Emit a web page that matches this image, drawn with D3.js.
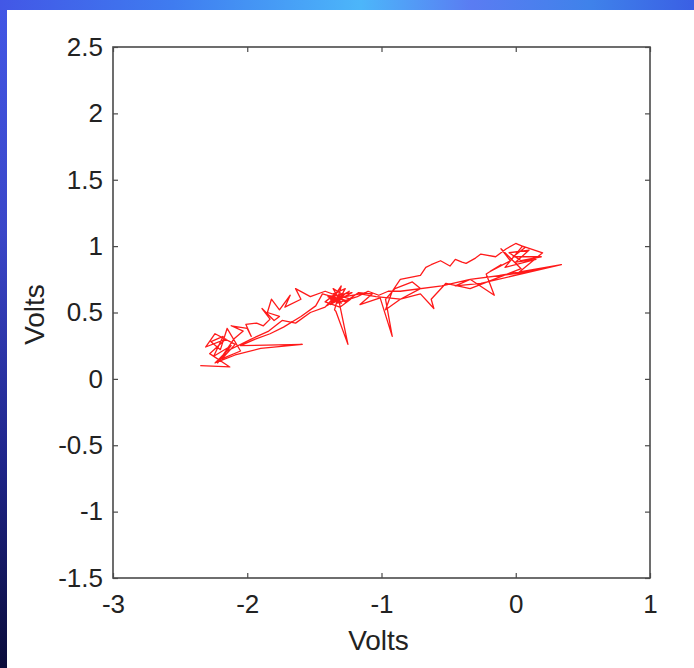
<!DOCTYPE html>
<html>
<head>
<meta charset="utf-8">
<script src="https://cdn.jsdelivr.net/npm/d3@7"></script>
<style>
  html, body { margin: 0; padding: 0; }
  body { width: 694px; height: 668px; overflow: hidden; background: #fff; }
  svg { display: block; }
  .tick text { font-family: "Liberation Sans", Arial, sans-serif; font-size: 26px; }
</style>
</head>
<body>
<script>
// Phase-plane trace: horizontal channel vs vertical channel, in volts
const xVolts = [
  -2.35, -2.13, -2.28, -2.16, -2.31, -2.24, -2.09, -2.19, -2.05, -2.15,
  -2.20, -2.27, -2.18, -2.25, -2.12, -2.22, -2.10, -2.03, -2.12, -2.00,
  -1.97, -2.01, -1.93, -1.88, -1.83, -1.89, -1.80, -1.76, -1.85, -1.82,
  -1.76, -1.68, -1.72, -1.60, -1.64, -1.53, -1.42, -1.31, -1.38, -1.22,
  -1.40, -1.30, -1.36, -1.28, -1.41, -1.33, -1.24, -1.38, -1.30, -1.35,
  -1.34, -1.25, -1.32, -1.26, -1.44, -1.49, -1.60, -1.73, -1.83, -1.94,
  -2.05, -1.59, -1.90, -2.09, -2.24, -2.15, -1.97, -1.84, -1.74, -1.64,
  -1.53, -1.42, -1.34, -1.27, -1.17, -1.07, -1.16, -1.01, -0.92, -0.97,
  -0.90, -0.77, -0.71, -0.86, -0.97, -0.92, -0.86, -0.71, -0.67, -0.63,
  -0.56, -0.49, -0.45, -0.40, -0.37, -0.30, -0.26, -0.15, -0.07, 0.00,
  0.07, -0.02, 0.19, 0.04, -0.05, 0.10, 0.00, 0.15, -0.08, 0.05,
  0.20, 0.02, -0.12, 0.34, -0.26, -0.45, -0.34, -0.16, -0.22, -0.11,
  -0.19, -0.04, -0.11, 0.04, -0.34, -0.52, -0.63, -0.61, -0.71, -0.86,
  -1.04, -1.16, -1.27, -1.38, -1.32, -1.42, -1.31, -1.23, -1.36, -1.27,
  -1.33, -1.18, -1.10, -1.02, -0.95, -0.86, -0.55, -0.34, 0.05, 0.28
];
const yVolts = [
  0.10, 0.09, 0.19, 0.30, 0.24, 0.34, 0.26, 0.15, 0.21, 0.38,
  0.22, 0.28, 0.32, 0.17, 0.25, 0.12, 0.30, 0.36, 0.40, 0.38,
  0.32, 0.41, 0.42, 0.40, 0.45, 0.53, 0.44, 0.47, 0.50, 0.60,
  0.52, 0.63, 0.54, 0.60, 0.68, 0.62, 0.66, 0.62, 0.56, 0.65,
  0.62, 0.57, 0.68, 0.63, 0.55, 0.60, 0.66, 0.58, 0.70, 0.52,
  0.51, 0.26, 0.60, 0.59, 0.64, 0.55, 0.47, 0.39, 0.34, 0.30,
  0.25, 0.26, 0.23, 0.18, 0.12, 0.21, 0.30, 0.36, 0.44, 0.42,
  0.50, 0.54, 0.63, 0.58, 0.65, 0.64, 0.56, 0.61, 0.32, 0.60,
  0.68, 0.73, 0.68, 0.60, 0.52, 0.66, 0.75, 0.78, 0.84, 0.86,
  0.89, 0.85, 0.90, 0.88, 0.87, 0.91, 0.94, 0.92, 0.98, 1.02,
  0.99, 0.92, 0.92, 0.89, 0.95, 0.97, 0.88, 0.90, 0.84, 1.00,
  0.95, 0.80, 0.78, 0.86, 0.72, 0.70, 0.75, 0.63, 0.79, 0.86,
  0.81, 0.89, 0.98, 0.83, 0.68, 0.72, 0.60, 0.53, 0.64, 0.60,
  0.62, 0.64, 0.62, 0.60, 0.66, 0.58, 0.54, 0.60, 0.64, 0.68,
  0.57, 0.62, 0.66, 0.63, 0.66, 0.66, 0.70, 0.75, 0.80, 0.85
];
const xTicks = [-3, -2, -1, 0, 1];
const yTicks = [-1.5, -1, -0.5, 0, 0.5, 1, 1.5, 2, 2.5];
const xLabel = "Volts";
const yLabel = "Volts";

const W = 694, H = 668;
const svg = d3.select("body").append("svg").attr("width", W).attr("height", H);

// Slide background: gradient header bar and left strip
const defs = svg.append("defs");
const gTop = defs.append("linearGradient").attr("id", "topbar").attr("x1", 0).attr("x2", 1).attr("y1", 0).attr("y2", 0);
[[0, "#4257e6"], [0.25, "#3f7cf0"], [0.52, "#4cb6fa"], [0.68, "#5a7cf2"], [0.85, "#3f82ea"], [1, "#3a5fe4"]]
  .forEach(([o, c]) => gTop.append("stop").attr("offset", o).attr("stop-color", c));
const gLeft = defs.append("linearGradient").attr("id", "leftbar").attr("x1", 0).attr("x2", 0).attr("y1", 0).attr("y2", 1);
[[0, "#4257e6"], [0.35, "#3a46c8"], [0.7, "#1e2488"], [1, "#0a0c3a"]]
  .forEach(([o, c]) => gLeft.append("stop").attr("offset", o).attr("stop-color", c));
svg.append("rect").attr("x", 0).attr("y", 0).attr("width", 7).attr("height", H).attr("fill", "url(#leftbar)");
svg.append("rect").attr("x", 0).attr("y", 0).attr("width", W).attr("height", 10).attr("fill", "url(#topbar)");

// Plot frame
const frame = { left: 113, right: 650, top: 47, bottom: 578 };
const x = d3.scaleLinear().domain([-3, 1]).range([frame.left, frame.right]);
const y = d3.scaleLinear().domain([-1.5, 2.5]).range([frame.bottom, frame.top]);

const axisColor = "#4a4a4a";
const textColor = "#222";
function styleAxis(g) {
  g.select(".domain").remove();
  g.selectAll(".tick line").attr("stroke", axisColor).attr("stroke-width", 1.2);
  g.selectAll(".tick text").attr("fill", textColor);
}

svg.append("g").attr("transform", `translate(0,${frame.bottom})`)
  .call(d3.axisBottom(x).tickValues(xTicks).tickFormat(d => String(d)).tickSizeInner(-5).tickSizeOuter(0).tickPadding(17))
  .call(styleAxis);
svg.append("g").attr("transform", `translate(0,${frame.top})`)
  .call(d3.axisTop(x).tickValues(xTicks).tickFormat("").tickSizeInner(-5).tickSizeOuter(0))
  .call(styleAxis);
svg.append("g").attr("transform", `translate(${frame.left},0)`)
  .call(d3.axisLeft(y).tickValues(yTicks).tickFormat(d => String(d)).tickSizeInner(-5).tickSizeOuter(0).tickPadding(10))
  .call(styleAxis);
svg.append("g").attr("transform", `translate(${frame.right},0)`)
  .call(d3.axisRight(y).tickValues(yTicks).tickFormat("").tickSizeInner(-5).tickSizeOuter(0))
  .call(styleAxis);

// Trace
const pts = xVolts.map((v, i) => [v, yVolts[i]]);
svg.append("path")
  .datum(pts)
  .attr("fill", "none")
  .attr("stroke", "#ff1a1a")
  .attr("stroke-width", 1.3)
  .attr("stroke-linejoin", "round")
  .attr("d", d3.line().x(d => x(d[0])).y(d => y(d[1])));

// Box
svg.append("rect")
  .attr("x", frame.left).attr("y", frame.top)
  .attr("width", frame.right - frame.left).attr("height", frame.bottom - frame.top)
  .attr("fill", "none").attr("stroke", axisColor).attr("stroke-width", 1.6);

// Axis titles
svg.append("text")
  .attr("x", (frame.left + frame.right) / 2 - 3).attr("y", 650)
  .attr("text-anchor", "middle")
  .style("font-family", "Liberation Sans, Arial, sans-serif").style("font-size", "28px")
  .attr("fill", textColor)
  .text(xLabel);
svg.append("text")
  .attr("transform", `translate(44,${(frame.top + frame.bottom) / 2 + 2}) rotate(-90)`)
  .attr("text-anchor", "middle")
  .style("font-family", "Liberation Sans, Arial, sans-serif").style("font-size", "28px")
  .attr("fill", textColor)
  .text(yLabel);
</script>
</body>
</html>
